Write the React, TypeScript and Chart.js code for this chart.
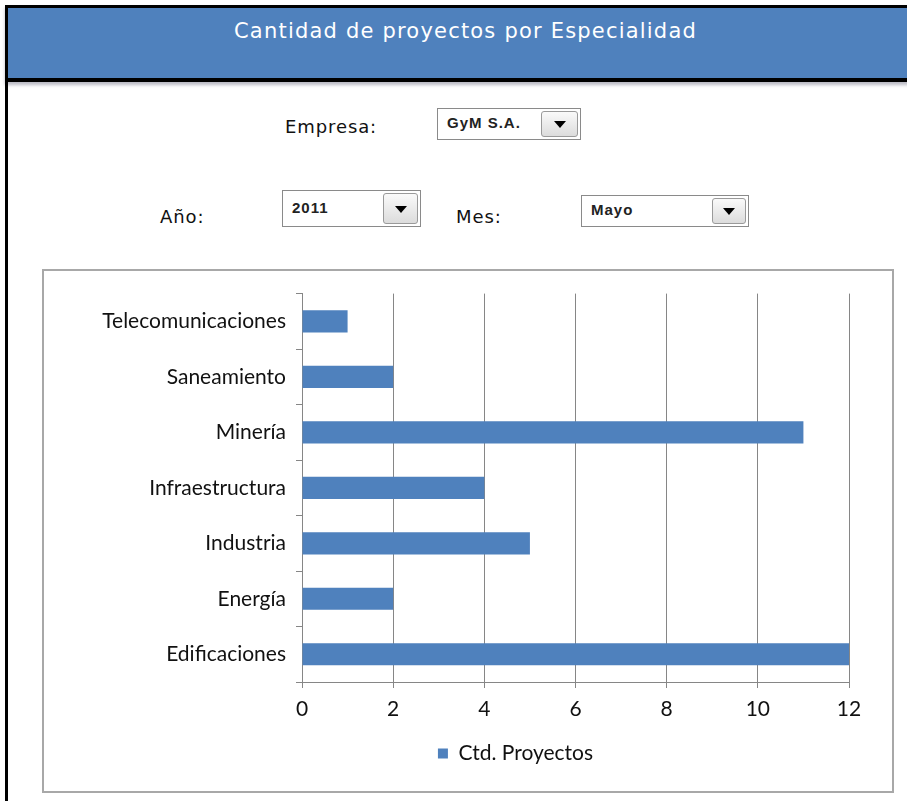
import React, { useEffect, useRef } from "react";
import { Chart, registerables } from "chart.js";

Chart.register(...registerables);

const categories = [
  "Telecomunicaciones",
  "Saneamiento",
  "Minería",
  "Infraestructura",
  "Industria",
  "Energía",
  "Edificaciones",
];
const proyectos = [1, 2, 11, 4, 5, 2, 12];
const seriesLabel = "Ctd. Proyectos";
const title = "Cantidad de proyectos por Especialidad";

const BLUE = "#4F81BD";
const GRID = "#868686";
const FONT = "Lato, 'Open Sans', sans-serif";

const legendShift = {
  id: "legendShift",
  afterLayout(chart: any) {
    const lg = chart.legend;
    if (lg) {
      lg.left += 69;
      lg.right += 69;
    }
  },
};

function Dropdown(props: { left: number; top: number; width: number; height: number; text: string; btnW: number }) {
  const { left, top, width, height, text, btnW } = props;
  return (
    <div
      style={{
        position: "absolute",
        left,
        top,
        width,
        height,
        boxSizing: "border-box",
        border: "1px solid #8a8a8a",
        background: "#fff",
      }}
    >
      <div
        style={{
          position: "absolute",
          left: 9,
          top: 0,
          height: height - 2,
          lineHeight: `${height - 4}px`,
          fontFamily: "'Liberation Sans', Arial, sans-serif",
          fontWeight: "bold",
          fontSize: 15,
          color: "#222",
          letterSpacing: 1,
        }}
      >
        {text}
      </div>
      <div
        style={{
          position: "absolute",
          right: 2,
          top: 2,
          width: btnW,
          height: height - 6,
          boxSizing: "border-box",
          border: "1px solid #9a9a9a",
          borderRadius: 3,
          background: "linear-gradient(#fafafa, #dcdcdc)",
        }}
      >
        <div
          style={{
            position: "absolute",
            left: "50%",
            top: "50%",
            marginLeft: -6,
            marginTop: -3,
            width: 0,
            height: 0,
            borderLeft: "6px solid transparent",
            borderRight: "6px solid transparent",
            borderTop: "7px solid #000",
          }}
        />
      </div>
    </div>
  );
}

const labelStyle: React.CSSProperties = {
  position: "absolute",
  fontFamily: "'DejaVu Sans', Verdana, sans-serif",
  fontSize: 18,
  letterSpacing: 0.9,
  color: "#111",
};

export default function App() {
  const canvasRef = useRef<HTMLCanvasElement | null>(null);

  useEffect(() => {
    if (!canvasRef.current) return;
    const chart = new Chart(canvasRef.current, {
      type: "bar",
      plugins: [legendShift],
      data: {
        labels: categories,
        datasets: [
          {
            label: seriesLabel,
            data: proyectos,
            backgroundColor: BLUE,
            borderWidth: 0,
            categoryPercentage: 1,
            barPercentage: 0.4,
          },
        ],
      },
      options: {
        indexAxis: "y",
        responsive: false,
        animation: false,
        maintainAspectRatio: false,
        layout: { padding: { top: 22, right: 43, left: 0, bottom: 17 } },
        plugins: {
          tooltip: { enabled: false },
          legend: {
            position: "bottom",
            labels: {
              boxWidth: 10,
              boxHeight: 10,
              padding: 10,
              color: "#111",
              font: { family: FONT, size: 21 },
            },
          },
        },
        scales: {
          x: {
            min: 0,
            max: 12,
            ticks: {
              stepSize: 2,
              color: "#111",
              padding: 9,
              font: { family: FONT, size: 21 },
            },
            grid: {
              color: GRID,
              lineWidth: 1,
              tickLength: 6,
              drawTicks: true,
            },
            border: { color: GRID, width: 1 },
            afterFit: (scale: any) => {
              scale.height = 51;
            },
          },
          y: {
            ticks: {
              color: "#111",
              padding: 10,
              font: { family: FONT, size: 21 },
            },
            grid: {
              offset: true,
              drawOnChartArea: false,
              drawTicks: true,
              tickLength: 6,
              color: GRID,
            },
            border: { color: GRID, width: 1 },
            afterFit: (scale: any) => {
              scale.width = 258;
            },
          },
        },
      },
    });
    return () => chart.destroy();
  }, []);

  return (
    <div style={{ position: "absolute", left: 0, top: 0, width: 907, height: 801, background: "#fff", overflow: "hidden" }}>
      {/* header band */}
      <div
        style={{
          position: "absolute",
          left: 5,
          top: 5,
          width: 910,
          height: 77,
          boxSizing: "border-box",
          background: BLUE,
          borderTop: "3px solid #000",
          borderLeft: "3px solid #000",
          borderBottom: "4px solid #000",
          boxShadow: "0 3px 3px rgba(120,120,140,0.5)",
        }}
      />
      <div
        style={{
          position: "absolute",
          left: 8,
          top: 8,
          width: 907,
          textAlign: "center",
          fontFamily: "'DejaVu Sans', Verdana, sans-serif",
          fontSize: 21,
          letterSpacing: 1.2,
          color: "#fff",
          lineHeight: "46px",
          paddingLeft: 8,
          boxSizing: "border-box",
        }}
      >
        {title}
      </div>
      {/* left border line */}
      <div style={{ position: "absolute", left: 5, top: 80, width: 3, height: 721, background: "#000" }} />

      {/* filters */}
      <div style={{ ...labelStyle, left: 285, top: 116 }}>Empresa:</div>
      <Dropdown left={437} top={108} width={144} height={32} text="GyM S.A." btnW={37} />
      <div style={{ ...labelStyle, left: 160, top: 206 }}>Año:</div>
      <Dropdown left={282} top={190} width={139} height={37} text="2011" btnW={35} />
      <div style={{ ...labelStyle, left: 456, top: 206 }}>Mes:</div>
      <Dropdown left={581} top={195} width={168} height={32} text="Mayo" btnW={34} />

      {/* chart box */}
      <div
        style={{
          position: "absolute",
          left: 42,
          top: 269,
          width: 852,
          height: 524,
          boxSizing: "border-box",
          border: "2px solid #a8a8a8",
          background: "#fff",
        }}
      >
        <canvas ref={canvasRef} width={848} height={520} style={{ display: "block", width: 848, height: 520 }} />
      </div>
    </div>
  );
}
